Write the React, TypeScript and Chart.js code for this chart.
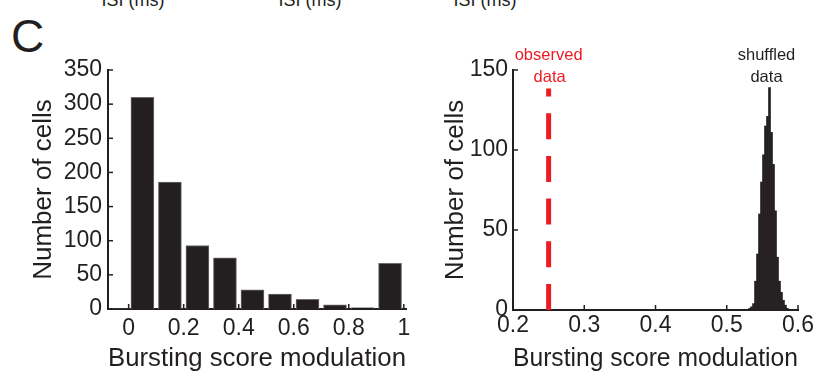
import React, { useEffect, useRef } from "react";
import { Chart, registerables } from "chart.js";

Chart.register(...registerables);

// ---------- data ----------
const panelLabel = "C";
const topCutLabels = ["ISI (ms)", "ISI (ms)", "ISI (ms)"];
const xAxisTitle = "Bursting score modulation";
const yAxisTitle = "Number of cells";

// left panel: histogram of bursting score modulation
const leftBinCenters = [-0.04, 0.05, 0.15, 0.25, 0.35, 0.45, 0.55, 0.65, 0.75, 0.85, 0.95];
const leftCounts = [1, 310, 186, 93, 75, 28, 22, 14, 6, 2, 67];
const leftXTicks = [0, 0.2, 0.4, 0.6, 0.8, 1];
const leftYTicks = [0, 50, 100, 150, 200, 250, 300, 350];

// right panel: shuffled distribution + observed value
const shuffledBinCenters = [
  0.532, 0.5348, 0.5376, 0.5404, 0.5432, 0.546, 0.5488, 0.5516, 0.5544, 0.5572,
  0.56, 0.5628, 0.5656, 0.5684, 0.5712, 0.574, 0.5768, 0.5796, 0.5824, 0.5852,
];
const shuffledCounts = [1, 2, 4, 18, 35, 60, 80, 97, 115, 121, 139, 111, 91, 62, 33, 18, 11, 6, 3, 1];
const observedValue = 0.25;
const observedLineTop = 138.5;
const observedLabel = ["observed", "data"];
const shuffledLabel = ["shuffled", "data"];
const rightXTicks = [0.2, 0.3, 0.4, 0.5, 0.6];
const rightYTicks = [0, 50, 100, 150];

// ---------- style ----------
const INK = "#231f20";
const RED = "#ed1c24";
const FONT = '"Liberation Sans", Arial, sans-serif';

const inwardTicks = {
  id: "inwardTicks",
  afterDatasetsDraw(chart: any) {
    const { ctx, chartArea, scales } = chart;
    const xs = scales.x;
    const ys = scales.y;
    ctx.save();
    ctx.strokeStyle = INK;
    ctx.lineWidth = 1.5;
    xs.ticks.forEach((t: any) => {
      const px = xs.getPixelForValue(t.value);
      ctx.beginPath();
      ctx.moveTo(px, chartArea.bottom);
      ctx.lineTo(px, chartArea.bottom - 5);
      ctx.stroke();
    });
    ys.ticks.forEach((t: any) => {
      const py = ys.getPixelForValue(t.value);
      ctx.beginPath();
      ctx.moveTo(chartArea.left, py);
      ctx.lineTo(chartArea.left + 5, py);
      ctx.stroke();
    });
    ctx.restore();
  },
};

function makeOptions(cfg: {
  xmin: number;
  xmax: number;
  ymax: number;
  xTicks: number[];
  yTicks: number[];
  yWidth: number;
  xHeight: number;
  padRight: number;
  yTitlePad: number;
  xTickPad: number;
  yTickPad: number;
}) {
  return {
    responsive: false,
    animation: false,
    devicePixelRatio: 1,
    layout: { padding: { left: 0, top: 70, right: cfg.padRight, bottom: 0 } },
    plugins: { legend: { display: false }, tooltip: { enabled: false } },
    scales: {
      x: {
        type: "linear",
        min: cfg.xmin,
        max: cfg.xmax,
        offset: false,
        grid: { display: false, drawTicks: false, offset: false },
        border: { display: true, color: INK, width: 2 },
        afterBuildTicks: (s: any) => {
          s.ticks = cfg.xTicks.map((v) => ({ value: v }));
        },
        afterFit: (s: any) => {
          s.height = cfg.xHeight;
        },
        ticks: {
          color: INK,
          font: { family: FONT, size: 23 },
          padding: cfg.xTickPad,
          maxRotation: 0,
          autoSkip: false,
          callback: (v: any) => String(v),
        },
        title: {
          display: true,
          text: xAxisTitle,
          color: INK,
          font: { family: FONT, size: 26 },
          padding: { top: 0, bottom: 1.4 },
        },
      },
      y: {
        type: "linear",
        min: 0,
        max: cfg.ymax,
        grid: { display: false, drawTicks: false },
        border: { display: true, color: INK, width: 2 },
        afterBuildTicks: (s: any) => {
          s.ticks = cfg.yTicks.map((v) => ({ value: v }));
        },
        afterFit: (s: any) => {
          s.width = cfg.yWidth;
        },
        ticks: {
          color: INK,
          font: { family: FONT, size: 23 },
          padding: cfg.yTickPad,
          autoSkip: false,
          callback: (v: any) => String(v),
        },
        title: {
          display: true,
          text: yAxisTitle,
          color: INK,
          font: { family: FONT, size: 26 },
          padding: { top: cfg.yTitlePad, bottom: 0 },
        },
      },
    },
  } as any;
}

export default function App() {
  const leftRef = useRef<HTMLCanvasElement | null>(null);
  const rightRef = useRef<HTMLCanvasElement | null>(null);

  useEffect(() => {
    const left = new Chart(leftRef.current as HTMLCanvasElement, {
      type: "bar",
      data: {
        datasets: [
          {
            data: leftBinCenters.map((x, i) => ({ x, y: leftCounts[i] })),
            backgroundColor: INK,
            borderColor: "#6d6a6b",
            borderWidth: 1,
            barThickness: 23,
          },
        ],
      },
      options: makeOptions({
        xmin: -0.075,
        xmax: 1.008,
        ymax: 350,
        xTicks: leftXTicks,
        yTicks: leftYTicks,
        yWidth: 108,
        xHeight: 67,
        padRight: 14,
        yTitlePad: 28.4,
        xTickPad: 6,
        yTickPad: 6,
      }),
      plugins: [inwardTicks],
    } as any);

    const annotate = {
      id: "annotate",
      afterDraw(chart: any) {
        const { ctx } = chart;
        const xs = chart.scales.x;
        ctx.save();
        ctx.font = `16.5px ${FONT}`;
        ctx.textAlign = "center";
        ctx.textBaseline = "alphabetic";
        const ox = xs.getPixelForValue(observedValue);
        ctx.fillStyle = RED;
        ctx.fillText(observedLabel[0], ox, 60);
        ctx.fillText(observedLabel[1], ox + 1, 82);
        const peakIdx = shuffledCounts.indexOf(Math.max(...shuffledCounts));
        const sx = xs.getPixelForValue(shuffledBinCenters[peakIdx]) - 3;
        ctx.fillStyle = INK;
        ctx.fillText(shuffledLabel[0], sx, 60);
        ctx.fillText(shuffledLabel[1], sx, 82);
        ctx.restore();
      },
    };

    const right = new Chart(rightRef.current as HTMLCanvasElement, {
      type: "bar",
      data: {
        datasets: [
          {
            type: "bar",
            data: shuffledBinCenters.map((x, i) => ({ x, y: shuffledCounts[i] })),
            backgroundColor: INK,
            borderWidth: 0,
            barPercentage: 1,
            categoryPercentage: 1,
          },
          {
            type: "line",
            data: [
              { x: observedValue, y: 0 },
              { x: observedValue, y: observedLineTop },
            ],
            borderColor: RED,
            borderWidth: 5,
            borderDash: [26, 16.7],
            borderCapStyle: "butt",
            pointRadius: 0,
            fill: false,
          },
        ],
      },
      options: makeOptions({
        xmin: 0.2,
        xmax: 0.6,
        ymax: 150,
        xTicks: rightXTicks,
        yTicks: rightYTicks,
        yWidth: 93,
        xHeight: 66,
        padRight: 19,
        yTitlePad: 20.4,
        xTickPad: 1.5,
        yTickPad: 5,
      }),
      plugins: [inwardTicks, annotate],
    } as any);

    return () => {
      left.destroy();
      right.destroy();
    };
  }, []);

  const isiCenters = [133, 310, 485];

  return (
    <div
      style={{
        position: "fixed",
        left: 0,
        top: 0,
        width: 817,
        height: 376,
        background: "#fff",
        overflow: "hidden",
        fontFamily: FONT,
        color: INK,
      }}
    >
      {topCutLabels.map((t, i) => (
        <div
          key={i}
          style={{
            position: "absolute",
            left: isiCenters[i] - 60,
            width: 120,
            top: -8.7,
            fontSize: 18,
            lineHeight: "18px",
            textAlign: "center",
            whiteSpace: "nowrap",
          }}
        >
          {t}
        </div>
      ))}
      <div
        style={{
          position: "absolute",
          left: 11,
          top: 13,
          fontSize: 46,
          lineHeight: "46px",
        }}
      >
        {panelLabel}
      </div>
      <div style={{ position: "absolute", left: 0, top: 0, width: 420, height: 376 }}>
        <canvas ref={leftRef} width={420} height={376} style={{ width: 420, height: 376, display: "block" }} />
      </div>
      <div style={{ position: "absolute", left: 420, top: 0, width: 397, height: 376 }}>
        <canvas ref={rightRef} width={397} height={376} style={{ width: 397, height: 376, display: "block" }} />
      </div>
    </div>
  );
}
